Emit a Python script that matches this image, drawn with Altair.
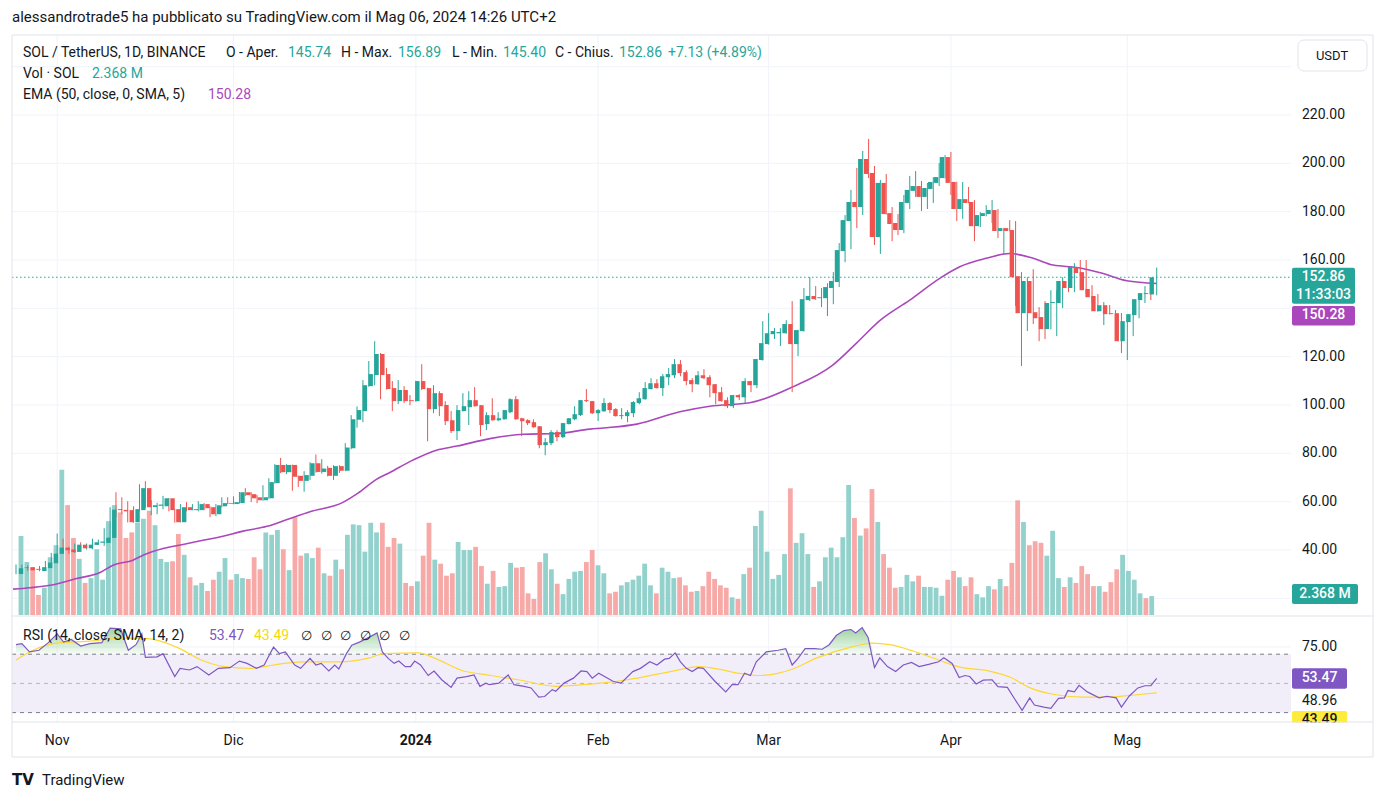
import altair as alt
import pandas as pd
import numpy as np

# ---------------- data ----------------
dates = pd.date_range("2023-10-25", "2024-05-06", freq="D")

opens = [30.1,32.5,32.9,32.2,31.3,32.5,34.5,38.4,41.0,40.2,
39.2,42.2,40.7,42.1,43.0,42.9,45.0,56.9,56.6,56.5,
51.5,56.5,65.6,57.8,58.3,58.1,61.4,56.9,51.5,57.7,
56.5,56.5,59.0,57.7,54.8,58.1,59.4,59.0,59.4,63.9,
63.1,61.8,60.6,61.4,67.7,75.2,72.2,75.2,70.7,68.6,
70.7,75.9,72.3,74.0,70.7,74.7,72.8,82.1,93.9,97.5,
107.8,112.4,121.1,112.8,107.0,101.6,106.2,102.0,101.6,109.9,
107.0,98.3,104.9,100.0,93.7,89.2,97.5,99.1,102.0,99.9,
92.1,95.8,93.7,94.1,97.0,102.4,94.5,93.7,92.9,91.2,
83.4,84.2,88.8,86.7,92.1,94.1,95.8,102.0,101.6,96.6,
97.4,100.8,98.3,95.4,95.4,96.6,100.8,102.4,106.6,109.0,
107.0,111.5,112.3,116.9,113.6,110.3,108.6,112.3,111.5,108.6,
105.3,102.0,99.5,104.1,103.2,109.9,108.2,118.6,125.2,129.3,
129.7,129.7,133.5,125.2,130.6,143.4,145.1,144.2,144.2,148.4,
150.9,163.7,176.1,184.0,181.9,201.8,196.0,169.5,191.9,179.4,
175.3,172.4,183.6,188.6,190.6,186.1,189.4,191.9,193.9,202.6,
192.3,181.1,185.2,184.0,174.0,178.2,179.0,180.7,172.0,173.2,
172.4,153.3,138.0,151.3,138.4,136.4,131.4,142.2,142.2,151.3,
148.4,157.1,155.0,148.0,145.1,138.8,141.3,138.0,138.0,126.4,
134.3,137.2,143.4,146.3,145.74]

highs = [34.0,34.0,33.7,32.7,33.4,35.5,38.8,46.8,44.7,41.3,
42.7,43.2,42.7,44.7,44.3,49.0,57.7,63.9,61.8,60.2,
58.1,67.2,68.5,60.6,59.5,62.4,61.5,57.0,59.0,59.8,
59.0,60.2,59.4,58.0,59.0,61.8,61.8,62.2,64.0,65.6,
63.9,62.7,66.8,69.7,75.5,78.1,75.5,75.3,70.8,72.6,
76.3,79.5,77.6,74.8,75.1,75.1,84.2,95.8,99.4,110.3,
118.2,126.4,121.5,115.3,109.9,110.3,107.8,104.1,110.0,116.9,
107.1,108.2,105.7,101.6,97.5,99.9,104.9,105.7,107.4,100.0,
97.0,102.8,97.0,98.0,102.8,103.7,94.7,94.1,94.1,91.3,
86.3,89.6,89.6,92.6,94.6,99.5,102.1,106.6,101.7,98.3,
102.8,101.2,98.7,98.7,97.9,101.6,105.3,109.5,111.1,110.7,
112.8,115.3,119.0,118.6,114.4,111.1,114.0,114.8,112.3,108.7,
107.4,103.2,104.2,104.5,111.1,110.0,119.1,134.7,138.0,131.8,
131.8,135.1,143.0,131.1,148.4,152.9,149.2,148.4,150.4,155.0,
167.0,178.6,189.0,198.1,205.1,210.1,198.9,193.1,195.6,181.9,
179.0,186.9,194.8,196.8,192.7,191.9,194.3,200.1,203.4,204.7,
192.4,192.3,190.2,184.8,179.8,182.7,184.8,181.1,173.3,176.5,
176.1,155.0,152.9,156.2,140.5,143.0,147.5,147.5,152.9,153.8,
158.7,160.0,160.0,149.6,145.9,142.6,141.4,139.3,138.1,135.9,
139.7,144.2,149.2,147.9,156.89]

lows = [30.0,31.1,31.3,31.6,31.2,32.3,34.2,37.8,38.8,38.4,
38.8,40.3,40.2,40.3,42.5,41.7,44.8,53.7,54.8,51.4,
51.3,56.3,57.5,54.4,54.8,56.9,56.0,51.3,51.4,56.0,
56.4,56.0,56.5,53.6,54.0,57.7,59.0,58.9,59.2,62.3,
59.8,59.4,60.4,61.2,67.5,71.8,71.4,64.5,66.1,64.1,
69.0,72.0,71.6,70.5,69.0,71.9,72.6,81.7,90.6,92.9,
107.6,108.2,102.4,106.4,97.5,100.4,100.8,99.9,101.4,106.2,
85.0,96.6,95.4,91.7,88.4,85.5,97.3,91.7,99.3,87.1,
89.6,93.5,93.3,93.9,96.6,93.9,87.1,91.7,90.6,82.1,
79.2,83.4,85.0,86.3,92.0,93.7,95.4,101.2,96.2,93.4,
97.2,96.6,95.2,94.1,92.9,95.0,100.3,102.2,106.4,106.8,
103.7,108.2,111.1,111.9,108.2,105.3,108.4,110.7,103.2,100.3,
101.4,98.7,98.7,102.0,100.8,105.3,107.0,118.4,125.0,127.3,
124.4,129.5,105.3,120.2,130.4,143.0,143.5,140.5,136.8,141.7,
148.8,159.1,164.5,173.2,178.6,193.9,166.2,162.5,178.8,167.8,
170.3,171.1,181.1,186.1,180.3,181.1,183.6,190.6,193.8,186.9,
176.1,177.0,183.5,167.8,173.6,178.1,175.3,169.1,162.5,171.9,
140.9,116.1,130.6,133.5,126.4,127.3,131.3,128.5,140.1,146.7,
146.7,153.3,145.9,142.2,138.7,133.1,137.5,133.5,121.5,118.6,
128.5,135.9,142.2,143.4,145.40]

closes = [32.45,32.8,31.6,31.8,32.9,34.8,38.5,41.0,39.9,39.1,
42.2,40.7,42.2,43.2,43.5,45.1,56.7,56.5,56.0,51.5,
56.9,65.6,57.7,58.5,58.8,61.4,56.5,51.5,57.7,56.5,
56.9,59.0,57.3,54.8,58.5,59.4,59.1,59.8,63.9,62.7,
61.4,60.6,61.8,68.1,75.2,72.2,75.2,70.3,68.6,71.0,
75.9,72.3,73.7,70.7,74.7,72.8,82.4,94.1,97.9,108.2,
112.8,121.1,112.4,106.6,101.6,106.2,101.6,101.6,109.9,106.6,
98.3,104.9,99.5,93.3,89.2,97.9,99.5,102.0,99.5,91.7,
95.8,93.7,94.5,97.9,102.4,94.1,93.3,92.5,90.8,83.4,
84.6,88.8,86.7,92.5,94.5,96.2,102.0,101.6,96.6,97.9,
100.8,97.9,95.4,95.8,97.0,101.2,102.8,107.0,109.0,107.0,
111.9,112.8,116.9,113.2,109.9,108.6,112.3,111.1,108.2,104.9,
101.6,99.5,104.1,103.2,109.9,108.2,119.0,125.6,129.7,130.6,
130.2,133.5,125.2,131.0,143.8,145.1,143.8,144.6,148.8,151.3,
164.1,176.5,184.0,181.9,201.8,195.6,169.5,191.9,179.0,174.9,
172.4,184.0,189.0,190.6,186.1,189.8,192.3,194.3,202.6,191.9,
181.1,185.2,183.6,174.0,178.6,179.4,180.7,172.0,173.2,172.0,
152.9,138.0,151.3,138.0,135.9,131.4,142.2,142.6,151.3,148.4,
157.1,154.6,147.5,144.6,138.8,141.3,137.6,137.6,126.4,134.7,
137.6,143.8,146.3,145.9,152.86]

volumes = [9.85,6.6,5.9,2.5,3.4,7.2,8.7,18.1,13.7,9.6,
7.0,4.0,4.6,8.2,4.4,11.7,13.7,12.8,9.6,10.3,
11.5,12.0,13.0,11.2,7.0,6.6,6.7,10.1,7.5,4.7,
3.7,4.0,3.0,4.4,5.4,7.1,4.4,5.1,4.6,4.5,
7.2,5.7,10.3,10.0,10.6,8.2,5.6,12.2,7.4,7.7,
7.1,8.4,5.2,4.9,6.9,5.7,10.0,11.3,11.2,7.9,
11.5,10.3,11.5,8.5,9.6,8.9,4.0,3.6,4.2,7.4,
11.5,6.9,6.4,4.9,5.2,9.1,8.1,8.1,8.5,6.1,
3.9,5.5,3.5,3.6,6.5,5.9,6.0,2.7,2.0,6.6,
7.7,5.7,3.9,2.6,4.5,5.4,5.5,6.6,8.1,6.2,
5.2,2.7,2.9,3.7,4.1,4.4,4.9,6.4,3.7,2.7,
5.9,5.4,4.6,4.7,3.7,2.9,3.0,3.6,5.4,4.5,
3.7,3.4,2.2,2.0,5.1,5.9,11.1,13.0,7.9,4.5,
5.0,7.6,15.8,9.0,10.2,7.6,3.5,4.2,7.2,8.4,
7.2,9.7,16.2,12.1,9.9,10.8,15.7,11.6,7.6,5.9,
3.4,3.5,5.0,4.2,4.9,3.5,3.5,3.4,2.4,4.4,
5.5,4.7,3.6,4.7,2.6,2.2,3.6,3.2,4.5,3.6,
6.5,14.3,11.6,8.7,9.2,9.0,7.4,10.5,4.6,3.5,
4.7,4.0,6.1,5.1,3.6,3.6,2.9,4.1,5.7,7.5,
5.5,4.4,2.7,2.1,2.368]

# EMA(50) line, read at points (day index from 2023-10-25, value)
ema_day = [-0.5, 2.4, 5.8, 10.3, 14.3, 16.5, 19.9, 21.6, 25, 28.4, 31.8, 35.2, 38.6, 42.7,
           46.1, 50, 55.6, 58.1, 61.3, 63.6, 67.5, 71.5, 75, 80.6, 86.3, 92, 97.6, 99.9,
           105.6, 112.9, 118, 124.8, 132.1, 138.9, 142.9, 146.9, 152, 157.1, 160.5, 165,
           169, 173, 176.4, 180.4, 184.4, 188.9, 194]
ema_val = [23.8, 24.4, 25.4, 28.2, 30.7, 33.7, 35.8, 37.8, 40.6, 42.3, 44.0, 45.7, 47.8, 49.8,
           52.6, 55.8, 59.7, 63.4, 69.2, 72.1, 77.2, 81.3, 83.0, 86.1, 87.9, 88.2, 90.0, 90.5,
           92.1, 97.2, 99.5, 100.9, 107.5, 116.5, 125.5, 134.9, 143.4, 152.4, 157.2, 160.7,
           162.7, 160.7, 157.9, 156.9, 154.7, 151.4, 150.28]

# RSI(14) line
rsi_day = [0, 1, 2.3, 3.9, 5.5, 7, 8.1, 9.4, 11, 12.6, 14.6, 16, 17.8, 19.1, 20.4, 21.4, 22, 24, 25,
           27, 27.9, 29.5, 30.8, 32.8, 34.4, 36.4, 38, 39.3, 40.9, 42.2, 43.8, 44.8, 45.8, 47.4,
           48.4, 50, 51, 51.9, 53.2, 54.2, 54.9, 56.2, 57.1, 58.4, 60.1, 61.4, 62.3, 63.3, 64.3,
           65.1, 66.2, 67.1, 67.8, 68.8, 70.1, 71.1, 72.4, 74, 75, 76.6, 77.9, 78.9, 79.9, 80.5,
           82.1, 83.7, 84.7, 86.4, 87.6, 88.9, 89.9, 91.2, 91.8, 93.2, 94.8, 96.1, 97.1, 98,
           99.1, 101.6, 102.9, 104.9, 106.2, 107.8, 109, 110.3, 111.1, 112.1, 113, 114, 115, 116,
           116.9, 118.9, 120.7, 121.8, 122.8, 123.9, 124.9, 125.9, 127.6, 129.6, 130.9, 132, 133,
           134.2, 135.8, 137.1, 138.3, 139.5, 140.8, 142, 142.8, 143.9, 144.9, 146, 146.9, 148.2,
           149.6, 150.9, 152.3, 153.6, 155.2, 156.9, 157.8, 159.2, 160.4, 161.4, 162.2, 163.3,
           164.5, 166, 167, 168.6, 169.9, 171.1, 172.4, 173.2, 174.8, 176, 177.3, 178.3, 178.9,
           180, 180.8, 182.2, 184.2, 185.5, 187.1, 188, 189.3, 190.8, 192, 193, 194]
rsi_val = [76.5, 77.2, 71.6, 72.7, 77.9, 83.9, 78.3, 80.1, 75.6, 77.2, 77.9, 87.8, 87.3, 72.7, 76.5,
           83.9, 67.8, 68.2, 70.4, 54.7, 60.3, 59.2, 61.5, 55.8, 60.3, 60.8, 65.3, 63.7, 60.3, 62.6,
           74.9, 70.4, 71.6, 62.6, 60.3, 67.1, 62.6, 63.7, 58.5, 62.6, 59.9, 70.4, 76.1, 78.3, 81.7,
           84.6, 71.6, 67.1, 63.7, 65.3, 61.5, 61.5, 65.3, 62.6, 55.4, 58.5, 52.5, 47.3, 53.6, 54.7,
           55.8, 48.0, 50.2, 49.1, 50.2, 55.8, 49.1, 48.0, 46.9, 40.6, 41.0, 45.7, 44.6, 50.2, 53.6,
           58.5, 58.1, 53.6,
           57.0, 51.3, 50.2, 58.1, 60.3, 64.8, 62.6, 66.6, 67.1, 70.9, 64.8, 60.3, 58.1, 60.8,
           60.3, 51.3, 44.2, 49.1, 49.1, 57.0, 55.4, 64.8, 71.6, 72.7, 73.8, 62.6, 67.1, 73.8,
           73.8, 73.4, 76.5, 82.8, 86.2, 86.9, 84.6, 88.2, 81.7, 60.8, 67.5, 61.5, 58.1, 62.6,
           64.4, 61.5, 63.0, 64.8, 67.5, 63.7, 54.0, 55.4, 54.7, 49.6, 52.2, 52.5, 47.8, 47.3,
           39.0, 31.6, 40.1, 35.2, 33.8, 32.9, 39.7, 40.1, 45.1, 44.2, 48.7, 44.2, 40.1, 41.2,
           40.1, 33.8, 41.2, 46.9, 48.4, 48.4, 53.47]

# RSI-based moving average (SMA 14)
rsi_ma_day = [0, 2.9, 7.5, 12, 18.5, 22.4, 27.6, 31.5, 35.4, 39.9, 44.5, 48.4, 54.9, 60.1, 62.6,
              68.5, 71.1, 75.6, 80.8, 85.4, 91.9, 96.4, 99, 104, 110.7, 116.4, 118, 123.9, 126.4,
              132.1, 136.2, 142, 145.7, 148.6, 152.7, 156.9, 160.2, 165.9, 169.2, 172.5, 176.6,
              181.6, 185.7, 189.8, 194]
rsi_ma_val = [66.0, 72.7, 77.9, 78.8, 81.0, 80.6, 74.3, 66.0, 61.5, 60.3, 63.0, 64.8, 64.8, 67.5,
              70.4, 70.9, 67.5, 59.2, 55.4, 52.5, 48.0, 49.1, 50.0, 52.5, 57.6, 61.5, 60.8, 56.3,
              55.4, 59.9, 67.5, 74.9, 77.6, 76.5, 72.0, 66.0, 61.5, 58.1, 54.0, 46.9, 42.4, 40.6,
              40.6, 41.9, 43.49]

month_day = [7, 37, 68, 99, 128, 159, 189]
month_label = ["Nov", "Dic", "2024", "Feb", "Mar", "Apr", "Mag"]
price_ticks = [220, 200, 180, 160, 120, 100, 80, 60, 40]
grid_prices = [240, 220, 200, 180, 160, 140, 120, 100, 80, 60, 40, 20]

# ---------------- style / layout ----------------
UP, DN = "#26a69a", "#ef5350"
UPV, DNV = "#93d2cc", "#f7a9a8"
EMA_C = "#ab47bc"
RSI_C = "#7e57c2"
MA_C = "#fdd835"
TXT = "#131722"
GRID = "#f0f3fa"
FRAME = "#e0e3eb"
FONT = "Roboto"

W, H = 1366, 780


def cx(v):
    return v - 8


def cy(v):
    return v - 8


XS = alt.Scale(domain=[0, 194], range=[cx(16), cx(16 + 5.88 * 194)], nice=False, zero=False)
PS = alt.Scale(domain=[40, 220], range=[cy(550), cy(115)], nice=False, zero=False)
VS = alt.Scale(domain=[0, 20], range=[cy(615), cy(615 - 8.02 * 20)], nice=False, zero=False)
RS = alt.Scale(domain=[30, 70], range=[cy(712.6), cy(654.2)], nice=False, zero=False)

n = len(dates)
assert len(opens) == n and len(highs) == n and len(lows) == n and len(closes) == n and len(volumes) == n
df = pd.DataFrame({
    "d": np.arange(n), "date": dates.strftime("%Y-%m-%d"),
    "open": opens, "high": highs, "low": lows, "close": closes, "volume": volumes,
})
up = df["close"] >= df["open"]
df["ccol"] = np.where(up, UP, DN)
df["vcol"] = np.where(up, UPV, DNV)

xq = lambda f="d": alt.X(f"{f}:Q", scale=XS, axis=None)
layers = []

# vertical month grid lines
months = pd.DataFrame({"d": month_day, "label": month_label})
layers.append(alt.Chart(months).mark_rule(color=GRID, strokeWidth=1).encode(
    x=xq(), y=alt.value(cy(35)), y2=alt.value(cy(722))))
# horizontal price grid
layers.append(alt.Chart(pd.DataFrame({"p": grid_prices})).mark_rule(color=GRID).encode(
    y=alt.Y("p:Q", scale=PS, axis=None), x=alt.value(cx(12)), x2=alt.value(cx(1291))))
# RSI background band
layers.append(alt.Chart(pd.DataFrame({"a": [70], "b": [30]})).mark_rect(color="#f2eef9").encode(
    y=alt.Y("a:Q", scale=RS, axis=None), y2="b:Q", x=alt.value(cx(12)), x2=alt.value(cx(1291))))
layers.append(alt.Chart(pd.DataFrame({"r": [75]})).mark_rule(color=GRID).encode(
    y=alt.Y("r:Q", scale=RS, axis=None), x=alt.value(cx(12)), x2=alt.value(cx(1291))))
# RSI dashed levels
layers.append(alt.Chart(pd.DataFrame({"r": [70, 30]})).mark_rule(color="#787b86", strokeDash=[4, 4]).encode(
    y=alt.Y("r:Q", scale=RS, axis=None), x=alt.value(cx(12)), x2=alt.value(cx(1291))))
layers.append(alt.Chart(pd.DataFrame({"r": [50]})).mark_rule(color="#b5b7be", strokeDash=[4, 4]).encode(
    y=alt.Y("r:Q", scale=RS, axis=None), x=alt.value(cx(12)), x2=alt.value(cx(1291))))

# volume bars
layers.append(alt.Chart(df).mark_bar(size=4.8).encode(
    x=xq(), y=alt.Y("volume:Q", scale=VS, axis=None, stack=None),
    color=alt.Color("vcol:N", scale=None)))

# EMA
ema_df = pd.DataFrame({"d": ema_day, "v": ema_val})
layers.append(alt.Chart(ema_df).mark_line(color=EMA_C, strokeWidth=1.6, interpolate="monotone").encode(
    x=xq(), y=alt.Y("v:Q", scale=PS, axis=None)))

# last price dotted line
layers.append(alt.Chart(pd.DataFrame({"p": [closes[-1]]})).mark_rule(color=UP, strokeDash=[1.5, 2.5]).encode(
    y=alt.Y("p:Q", scale=PS, axis=None), x=alt.value(cx(12)), x2=alt.value(cx(1291))))

# candles
layers.append(alt.Chart(df).mark_rule(strokeWidth=1).encode(
    x=xq(), y=alt.Y("low:Q", scale=PS, axis=None), y2="high:Q",
    color=alt.Color("ccol:N", scale=None)))
layers.append(alt.Chart(df).mark_bar(size=4.4).encode(
    x=xq(), y=alt.Y("open:Q", scale=PS, axis=None), y2="close:Q",
    color=alt.Color("ccol:N", scale=None)))

# RSI pane
rsi_df = pd.DataFrame({"d": rsi_day, "r": rsi_val})
grad = alt.Gradient(gradient="linear", x1=0, x2=0, y1=0, y2=1, stops=[
    alt.GradientStop(color="rgba(76,175,80,0.55)", offset=0),
    alt.GradientStop(color="rgba(76,175,80,0.04)", offset=1)])
layers.append(alt.Chart(rsi_df).transform_calculate(top="max(datum.r, 70)", base="70").mark_area(
    color=grad).encode(x=xq(), y=alt.Y("top:Q", scale=RS, axis=None), y2="base:Q"))
ma_df = pd.DataFrame({"d": rsi_ma_day, "r": rsi_ma_val})
layers.append(alt.Chart(ma_df).mark_line(color=MA_C, strokeWidth=1.2, interpolate="monotone").encode(
    x=xq(), y=alt.Y("r:Q", scale=RS, axis=None)))
layers.append(alt.Chart(rsi_df).mark_line(color=RSI_C, strokeWidth=1.2).encode(
    x=xq(), y=alt.Y("r:Q", scale=RS, axis=None)))

# ---------------- right price scale ----------------
layers.append(alt.Chart(pd.DataFrame({"p": price_ticks})).mark_text(
    align="left", baseline="middle", font=FONT, fontSize=14, color=TXT).encode(
    y=alt.Y("p:Q", scale=PS, axis=None), x=alt.value(cx(1302)), text=alt.Text("p:Q", format=".2f")))
layers.append(alt.Chart(pd.DataFrame({"r": [75]})).mark_text(
    align="left", baseline="middle", font=FONT, fontSize=14, color=TXT).encode(
    y=alt.Y("r:Q", scale=RS, axis=None), x=alt.value(cx(1302)), text=alt.Text("r:Q", format=".2f")))


def label_box(value, scale, fill, top, bottom, texts, x1=1292, x2=1355, tcolor="white"):
    out = []
    d = pd.DataFrame({"v": [value]})
    out.append(alt.Chart(d).mark_rect(color=fill, cornerRadius=2, yOffset=top, y2Offset=bottom).encode(
        y=alt.Y("v:Q", scale=scale, axis=None), y2="v:Q", x=alt.value(cx(x1)), x2=alt.value(cx(x2))))
    for t, dy in texts:
        out.append(alt.Chart(d).mark_text(align="center", baseline="middle", font=FONT, fontSize=14,
                                          fontWeight=500, color=tcolor, dy=dy, text=t).encode(
            y=alt.Y("v:Q", scale=scale, axis=None), x=alt.value(cx((x1 + x2) / 2))))
    return out


layers += label_box(closes[-1], PS, UP, -9.5, 26.5, [(f"{closes[-1]:.2f}", 0), ("11:33:03", 17.5)])
layers += label_box(ema_val[-1], PS, EMA_C, 22.5, 42, [(f"{ema_val[-1]:.2f}", 32)])
layers += label_box(volumes[-1], VS, UP, -12, 8, [(f"{volumes[-1]:.3f} M", -2)], x2=1358)
layers += label_box(rsi_val[-1], RS, RSI_C, -10, 10.5, [(f"{rsi_val[-1]:.2f}", 0)], x2=1347)
layers.append(alt.Chart(pd.DataFrame({"v": [48.96]})).mark_text(
    align="left", baseline="middle", font=FONT, fontSize=14, color=TXT, dy=16, text="48.96").encode(
    y=alt.Y("v:Q", scale=RS, axis=None), x=alt.value(cx(1302))))
layers += label_box(rsi_ma_val[-1], RS, "#ffeb3b", 18, 36, [(f"{rsi_ma_val[-1]:.2f}", 27)], x2=1347, tcolor=TXT)
# white cover for the time-axis strip (labels are clipped at the pane edge)
layers.append(alt.Chart(pd.DataFrame({"a": [0]})).mark_rect(color="white").encode(
    x=alt.value(cx(1288)), x2=alt.value(cx(1372)), y=alt.value(cy(722.5)), y2=alt.value(cy(756))))

# USDT button
layers.append(alt.Chart(pd.DataFrame({"a": [0]})).mark_rect(
    fill="white", stroke=FRAME, strokeWidth=1, cornerRadius=6).encode(
    x=alt.value(cx(1298)), x2=alt.value(cx(1367)), y=alt.value(cy(40)), y2=alt.value(cy(71))))
layers.append(alt.Chart(pd.DataFrame({"a": [0]})).mark_text(
    text="USDT", font=FONT, fontSize=13, color=TXT, align="center", baseline="middle").encode(
    x=alt.value(cx(1332)), y=alt.value(cy(56))))

# frame lines
frame_segments = [
    (12, 35, 1373, 35), (12, 757, 1373, 757), (12, 35, 12, 757), (1373, 35, 1373, 757),
    (12, 616, 1373, 616), (12, 722, 1373, 722),
]
for (a, b, c, e) in frame_segments:
    layers.append(alt.Chart(pd.DataFrame({"a": [0]})).mark_rule(color=FRAME, strokeWidth=1).encode(
        x=alt.value(cx(a)), y=alt.value(cy(b)), x2=alt.value(cx(c)), y2=alt.value(cy(e))))

# time axis labels
layers.append(alt.Chart(months[months.label != "2024"]).mark_text(
    font=FONT, fontSize=14, color=TXT, align="center", baseline="middle").encode(
    x=xq(), y=alt.value(cy(741)), text="label:N"))
layers.append(alt.Chart(months[months.label == "2024"]).mark_text(
    font=FONT, fontSize=14, fontWeight="bold", color=TXT, align="center", baseline="middle").encode(
    x=xq(), y=alt.value(cy(741)), text="label:N"))

# ---------------- header / legends ----------------
seg = [
    ("alessandrotrade5 ha pubblicato su TradingView.com il Mag 06, 2024 14:26 UTC+2", 12, 17, TXT, 15),
    ("SOL / TetherUS, 1D, BINANCE", 23, 53, TXT, 14),
    ("O - Aper.", 226, 53, TXT, 14),
    (f"{opens[-1]:.2f}", 288, 53, UP, 14),
    ("H - Max.", 341, 53, TXT, 14),
    (f"{highs[-1]:.2f}", 398, 53, UP, 14),
    ("L - Min.", 452, 53, TXT, 14),
    (f"{lows[-1]:.2f}", 503, 53, UP, 14),
    ("C - Chius.", 555, 53, TXT, 14),
    (f"{closes[-1]:.2f}", 619, 53, UP, 14),
    ("+7.13 (+4.89%)", 668, 53, UP, 14),
    ("Vol · SOL", 23, 74, TXT, 14),
    (f"{volumes[-1]:.3f} M", 92, 74, UP, 14),
    ("EMA (50, close, 0, SMA, 5)", 23, 95, TXT, 14),
    (f"{ema_val[-1]:.2f}", 208, 95, EMA_C, 14),
    ("RSI (14, close, SMA, 14, 2)", 23, 636, TXT, 14),
    (f"{rsi_val[-1]:.2f}", 209, 636, RSI_C, 14),
    (f"{rsi_ma_val[-1]:.2f}", 254, 636, "#f5d90a", 14),
    ("TradingView", 42, 780, TXT, 15),
]
for k in range(6):
    seg.append(("∅", 301 + 19.5 * k, 636, TXT, 13))
seg_df = pd.DataFrame(seg, columns=["t", "px", "py", "c", "s"])
seg_df["px"] = seg_df["px"] - 8
seg_df["py"] = seg_df["py"] - 8
layers.append(alt.Chart(seg_df).mark_text(align="left", baseline="middle", font=FONT).encode(
    x=alt.X("px:Q", scale=None, axis=None), y=alt.Y("py:Q", scale=None, axis=None),
    text="t:N", color=alt.Color("c:N", scale=None), size=alt.Size("s:Q", scale=None)))
layers.append(alt.Chart(pd.DataFrame({"a": [0]})).mark_text(
    text="TV", font="DejaVu Sans", fontSize=15, fontWeight=900, color=TXT, align="left", baseline="middle").encode(
    x=alt.value(cx(12)), y=alt.value(cy(780))))

chart = alt.layer(*layers).resolve_scale(x="independent", y="independent", color="independent").properties(
    width=W, height=H, autosize=alt.AutoSizeParams(type="none"), padding=0, background="white"
).configure_view(stroke=None)

chart.save("out.html", embed_options={"renderer": "svg", "actions": False})
